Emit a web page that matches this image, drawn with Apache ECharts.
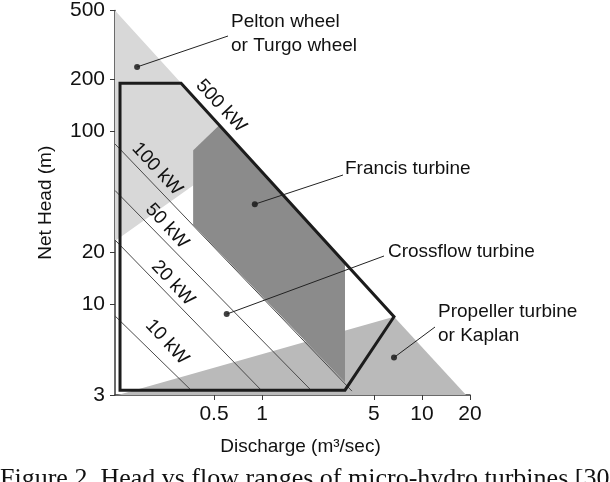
<!DOCTYPE html>
<html><head><meta charset="utf-8">
<script src="https://cdn.jsdelivr.net/npm/echarts@6/dist/echarts.min.js"></script>
<style>html,body{margin:0;padding:0;background:#fff}#c{width:610px;height:482px}</style>
</head><body><div id="c"></div>
<script>
// ---- data (discharge Q in m3/s, net head H in m) ----
const dischargeTicks = [0.5, 1, 5, 10, 20];
const headTicks = [3, 10, 20, 100, 200, 500];

const peltonQ = [0.12, 0.54, 0.37, 0.37, 0.12];
const peltonH = [500, 109, 78, 48.7, 23.3];

const francisQ = [0.37, 0.54, 3.3, 3.3, 0.37];
const francisH = [78, 109, 17.5, 3.56, 28.8];

const kaplanQ = [0.125, 6.69, 18.9];
const kaplanH = [3, 8.5, 3];

const crossflowQ = [0.129, 0.311, 6.69, 3.3, 0.129];
const crossflowH = [190, 190, 8.5, 3.2, 3.2];

const kw10Q = [0.12, 0.364],  kw10H = [8.59, 3.16];
const kw20Q = [0.12, 1.0],    kw20H = [23.6, 3.16];
const kw50Q = [0.12, 2.05],   kw50H = [45.6, 3.16];
const kw100Q = [0.12, 3.65],  kw100H = [84.7, 3.16];

const powerLabels = ['500 kW', '100 kW', '50 kW', '20 kW', '10 kW'];

const turbineNames = ['Pelton', 'Francis', 'Crossflow', 'Propeller'];
const markerQ = [0.165, 0.90, 0.60, 6.69];
const markerH = [236, 38, 8.8, 4.94];

// ---- rendering ----
const FONT = '"Liberation Sans", Arial, Helvetica, sans-serif';
const chart = echarts.init(document.getElementById('c'), null, {renderer: 'canvas'});
const zip = (q, h) => q.map((v, i) => [v, h[i]]);

function polygonSeries(name, q, h, fill, stroke, lw, z) {
  const pts = zip(q, h);
  return {
    type: 'custom', name, coordinateSystem: 'cartesian2d', data: pts, z, silent: true,
    renderItem: (params, api) => {
      if (params.dataIndex !== 0) return null;
      return {type: 'polygon', shape: {points: pts.map(p => api.coord(p))},
        style: {fill: fill, stroke: stroke, lineWidth: lw, lineJoin: 'miter'}};
    }
  };
}
function kwLine(name, q, h) {
  return {type: 'line', name, data: zip(q, h), symbol: 'none', z: 3, silent: true,
    lineStyle: {color: '#4a4a4a', width: 1}};
}
const fmt = v => String(Number(Number(v).toPrecision(3)));

chart.setOption({
  animation: false,
  grid: {left: 115, right: 140, top: 6, bottom: 87, containLabel: false},
  xAxis: {
    type: 'log', logBase: 10, min: 0.12, max: 20,
    axisLine: {show: true, lineStyle: {color: '#3a3a3a', width: 1.5}},
    axisTick: {show: true, customValues: dischargeTicks, length: 5, lineStyle: {color: '#3a3a3a'}},
    axisLabel: {customValues: dischargeTicks, formatter: fmt, fontSize: 21, color: '#111', margin: 9, fontFamily: FONT},
    splitLine: {show: false}, minorTick: {show: false},
    name: 'Discharge (m³/sec)', nameLocation: 'middle', nameGap: 42,
    nameTextStyle: {fontSize: 19, color: '#111', fontFamily: FONT, padding: [0, 0, 0, 16]}
  },
  yAxis: {
    type: 'log', logBase: 10, min: 3, max: 500,
    axisLine: {show: true, lineStyle: {color: '#3a3a3a', width: 1.5}},
    axisTick: {show: true, customValues: headTicks, length: 5, lineStyle: {color: '#3a3a3a'}},
    axisLabel: {customValues: headTicks, formatter: fmt, fontSize: 21, color: '#111', margin: 10, fontFamily: FONT},
    splitLine: {show: false}, minorTick: {show: false},
    name: 'Net Head (m)', nameLocation: 'middle', nameGap: 60,
    nameTextStyle: {fontSize: 19, color: '#111', fontFamily: FONT}
  },
  series: [
    polygonSeries('Pelton wheel', peltonQ, peltonH, '#d8d8d8', null, 0, 1),
    polygonSeries('Propeller turbine', kaplanQ, kaplanH, '#bababa', null, 0, 2),
    kwLine('10 kW', kw10Q, kw10H),
    kwLine('20 kW', kw20Q, kw20H),
    kwLine('50 kW', kw50Q, kw50H),
    kwLine('100 kW', kw100Q, kw100H),
    polygonSeries('Francis turbine', francisQ, francisH, '#8b8b8b', null, 0, 4),
    polygonSeries('Crossflow turbine', crossflowQ, crossflowH, 'none', '#1c1c1c', 3, 5),
    {type: 'scatter', name: 'markers', data: zip(markerQ, markerH), symbol: 'circle', symbolSize: 6,
      itemStyle: {color: '#111'}, z: 6, silent: true}
  ]
});

// annotations (layout in pixels)
const textStyle = (t, x, y, extra) => Object.assign({
  type: 'text', x, y, z: 100, silent: true,
  style: {text: t, fontSize: 19, fontFamily: FONT, fill: '#111', textVerticalAlign: 'middle', textAlign: 'left'}
}, extra || {});
const leaderEnds = [[228, 36], [343, 175], [384, 256], [435, 327]];
const graphics = [];
turbineNames.forEach((n, i) => {
  const p = chart.convertToPixel({gridIndex: 0}, [markerQ[i], markerH[i]]);
  graphics.push({type: 'line', z: 99, silent: true, shape: {x1: p[0], y1: p[1], x2: leaderEnds[i][0], y2: leaderEnds[i][1]},
    style: {stroke: '#222', lineWidth: 1}});
});
graphics.push(textStyle('Pelton wheel', 231, 22));
graphics.push(textStyle('or Turgo wheel', 231, 46));
graphics.push(textStyle('Francis turbine', 345, 169));
graphics.push(textStyle('Crossflow turbine', 388, 252));
graphics.push(textStyle('Propeller turbine', 438, 312));
graphics.push(textStyle('or Kaplan', 438, 336));
const kwPos = [[221, 106], [157, 169], [167, 226], [173, 283], [167, 342]];
powerLabels.forEach((t, i) => {
  graphics.push({type: 'text', x: kwPos[i][0], y: kwPos[i][1], rotation: -0.82, z: 100, silent: true,
    style: {text: t, fontSize: 19, fontFamily: FONT, fill: '#111', textAlign: 'center', textVerticalAlign: 'middle'}});
});
graphics.push({type: 'text', x: 0, y: 492, z: 100, silent: true,
  style: {text: 'Figure 2. Head vs flow ranges of micro-hydro turbines [30]', fontSize: 26,
    fontFamily: '"Liberation Serif", "Times New Roman", serif', fill: '#111', textAlign: 'left', textVerticalAlign: 'bottom'}});
chart.setOption({graphic: graphics});
</script>
</body></html>
